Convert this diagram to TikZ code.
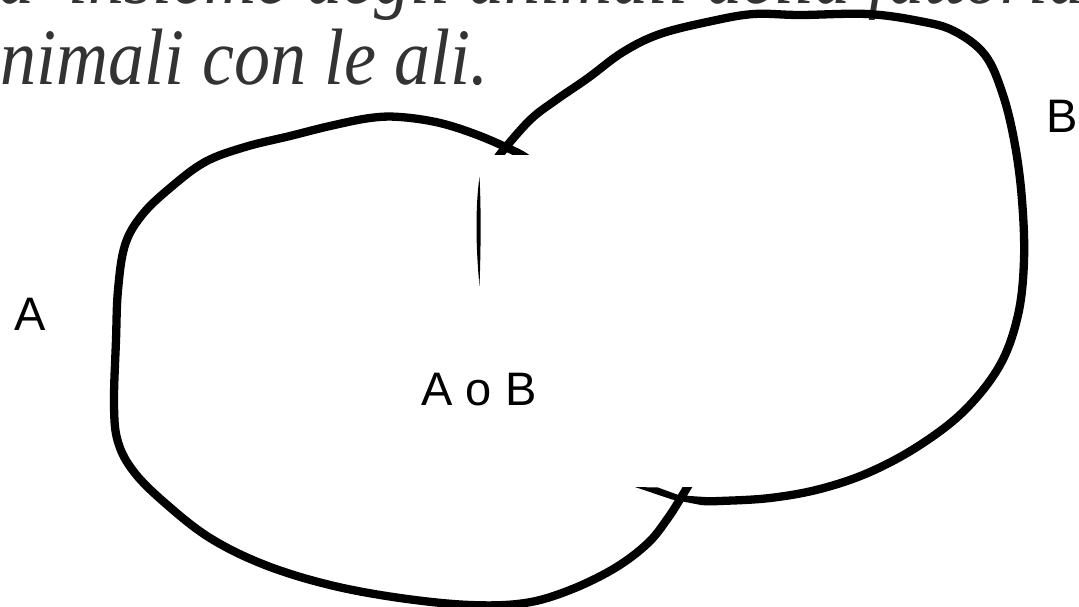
\documentclass[tikz,border=0pt]{standalone}
\usepackage{fontspec}
\setmainfont{Liberation Serif}
\newfontfamily\labfont{Liberation Sans}
\definecolor{txtgray}{HTML}{333333}
\begin{document}
\begin{tikzpicture}[x=1pt,y=-1pt,
  outline/.style={line width=8.3pt, line cap=round, line join=round},
  lab/.style={font=\labfont\fontsize{47}{50}\selectfont, inner sep=0, text=black},
  caption/.style={font=\itshape\fontsize{80}{80}\selectfont, inner sep=0, text=txtgray, anchor=base west}]
\useasboundingbox (0,0) rectangle (1079,607);

% cropped caption text
\node[caption] (line1) at (-2,4) {\scalebox{0.9}[1]{a\hspace{38pt}insieme degli animali della fattoria}};
\node[caption] (line2) at (0,85) {\scalebox{0.9}[1]{nimali con le ali.}};

% set A
\draw[outline] plot[smooth, tension=0.6] coordinates {(530,161) (518,153) (480,136) (440,123) (400,117) (370,118) (330,126) (290,136) (245,147) (205,162) (170,188) (142,215) (125,245) (118,290) (116,340) (114,405) (118,442) (134,472) (165,503) (210,538) (265,565) (330,585) (400,598) (470,605) (525,603) (570,590) (615,568) (648,543) (668,518) (682,496) (694,476)};

% set B
\draw[outline] plot[smooth, tension=0.6] coordinates {(495,163) (501,153) (530,120) (556,100) (588,78) (623,52) (660,34) (712,21) (754,14) (800,15) (867,14) (919,21) (954,31) (985,55) (1003,95) (1015,145) (1022,200) (1024,260) (1018,315) (1000,365) (965,410) (920,445) (870,472) (820,489) (770,498) (720,501) (702,501)};
\fill (702,496.8) -- (690,496) -- (677,494.5) -- (658,487.5) -- (635,487) -- (672,499.5) -- (702,505.2) -- cycle;

% masks that cut the strokes flat
\fill[white] (466,155) rectangle (554,176);
\fill[white] (668,464) rectangle (710,487);

% thin pen stroke
\fill (479.5,177) .. controls (475.5,205) and (475.5,245) .. (479.5,286) .. controls (481,245) and (481,205) .. (479.5,177) -- cycle;

% labels
\node[lab, anchor=base] (labA) at (30,330) {A};
\node[lab, anchor=base] (labB) at (1062,133) {B};
\node[lab, anchor=base] (labAB) at (479,405) {A o B};
\end{tikzpicture}
\end{document}
